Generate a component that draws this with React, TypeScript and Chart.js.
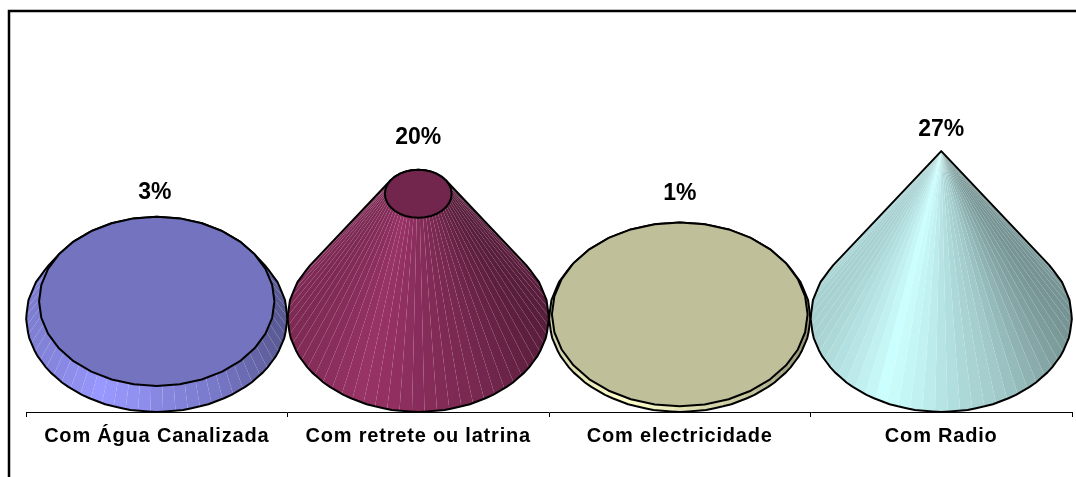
import React, { useEffect, useRef } from "react";
import { Chart, registerables } from "chart.js";

Chart.register(...registerables);

const categories = ["Com Água Canalizada", "Com retrete ou latrina", "Com electricidade", "Com Radio"];
const seriesValues = [2.7, 20.1, 0.6, 27];
const sideColors = [[153, 153, 255], [153, 51, 102], [255, 255, 204], [204, 255, 255]];
const labelGaps = [24, 32, 29, 21];
const labelShift = [-2, 0, 0, 0];

const SEGMENTS = 32;
const SUB = 2;
const FONT = '"Liberation Sans", Arial, sans-serif';

const shadeStops = [[-1, 0.82], [-0.45, 1], [-0.12, 0.93], [0, 0.89], [0.5, 0.78], [1, 0.58]];
function shade(x: number) {
  for (let i = 1; i < shadeStops.length; i++) {
    const [x0, s0] = shadeStops[i - 1];
    const [x1, s1] = shadeStops[i];
    if (x <= x1) return s0 + ((s1 - s0) * (x - x0)) / (x1 - x0);
  }
  return 0.58;
}
const rgb = (c: number[], k: number) => `rgb(${c.map((v) => Math.round(v * k)).join(",")})`;

const conePlugin = {
  id: "cones",
  beforeDraw(chart: any) {
    chart.ctx.letterSpacing = "0.8px";
  },
  afterDatasetsDraw(chart: any) {
    const { ctx, chartArea, scales } = chart;
    ctx.letterSpacing = "0px";
    const meta = chart.getDatasetMeta(0);
    const y0 = scales.y.getPixelForValue(0);
    const b0 = chartArea.bottom - y0;
    const maxV = Math.max(...seriesValues);
    const apexH = y0 - scales.y.getPixelForValue(maxV);
    const tangent = Math.asin(Math.min(1, b0 / apexH));

    // outer frame
    ctx.save();
    ctx.strokeStyle = "#000";
    ctx.lineWidth = 2.5;
    ctx.beginPath();
    ctx.moveTo(9, chart.height);
    ctx.lineTo(9, 11);
    ctx.lineTo(chart.width, 11);
    ctx.stroke();
    ctx.restore();

    meta.data.forEach((bar: any, i: number) => {
      const cx = bar.x;
      const R = bar.width / 2;
      const yTop = bar.y;
      const f = 1 - seriesValues[i] / maxV;
      const step = (Math.PI * 2) / SEGMENTS;
      const base = (t: number) => [cx + R * Math.cos(t), y0 + b0 * Math.sin(t)];
      const top = (t: number) => [cx + R * f * Math.cos(t), yTop + b0 * f * Math.sin(t)];
      const snap = (t: number, fn: (t: number) => number[]) => {
        const j = Math.floor(t / step);
        const a = fn(j * step);
        const c = fn((j + 1) * step);
        const u = t / step - j;
        return [a[0] + (c[0] - a[0]) * u, a[1] + (c[1] - a[1]) * u];
      };

      const start = -tangent;
      const end = Math.PI + tangent;
      const facets = Math.ceil(((end - start) / step) * SUB);
      const norm = (t: number) => (t < 0 ? t + Math.PI * 2 : t);
      ctx.save();
      for (let n = 0; n < facets; n++) {
        const t0 = start + ((end - start) * n) / facets;
        const t1 = start + ((end - start) * (n + 1)) / facets;
        const tm = (t0 + t1) / 2;
        const a = snap(norm(t0), base);
        const c = snap(norm(t1), base);
        const d = snap(norm(t1), top);
        const e = snap(norm(t0), top);
        ctx.beginPath();
        ctx.moveTo(a[0], a[1]);
        ctx.lineTo(c[0], c[1]);
        ctx.lineTo(d[0], d[1]);
        ctx.lineTo(e[0], e[1]);
        ctx.closePath();
        ctx.fillStyle = rgb(sideColors[i], shade(Math.cos(tm)));
        ctx.fill();
      }

      // silhouette
      ctx.strokeStyle = "#000";
      ctx.lineWidth = 2;
      ctx.lineJoin = "round";
      ctx.beginPath();
      const arcPts = 64;
      for (let n = 0; n <= arcPts; n++) {
        const t = start + ((end - start) * n) / arcPts;
        const p = snap(norm(t), base);
        n === 0 ? ctx.moveTo(p[0], p[1]) : ctx.lineTo(p[0], p[1]);
      }
      if (f > 0) {
        for (let n = 0; n <= arcPts; n++) {
          const t = end + ((start + Math.PI * 2 - end) * n) / arcPts;
          const p = snap(t, top);
          ctx.lineTo(p[0], p[1]);
        }
      } else {
        ctx.lineTo(cx, yTop);
      }
      ctx.closePath();
      ctx.stroke();

      // top face
      if (f > 0) {
        ctx.beginPath();
        for (let n = 0; n < SEGMENTS; n++) {
          const p = top(n * step);
          n === 0 ? ctx.moveTo(p[0], p[1]) : ctx.lineTo(p[0], p[1]);
        }
        ctx.closePath();
        ctx.fillStyle = rgb(sideColors[i], 0.75);
        ctx.fill();
        ctx.stroke();
      }

      // value label
      ctx.fillStyle = "#000";
      ctx.font = `bold 23px ${FONT}`;
      ctx.textAlign = "center";
      ctx.textBaseline = "middle";
      const labelY = yTop - b0 * f - labelGaps[i];
      ctx.fillText(`${seriesValues[i].toFixed(0)}%`, cx + labelShift[i], labelY);
      ctx.restore();
    });
  },
};

export default function App() {
  const ref = useRef<HTMLCanvasElement>(null);
  useEffect(() => {
    const chart = new Chart(ref.current!, {
      type: "bar",
      data: {
        labels: categories,
        datasets: [
          {
            data: seriesValues,
            backgroundColor: "rgba(0,0,0,0)",
            borderWidth: 0,
            barPercentage: 1,
            categoryPercentage: 1,
          },
        ],
      },
      plugins: [conePlugin],
      options: {
        responsive: false,
        animation: false,
        devicePixelRatio: 1,
        layout: { padding: { left: 26, right: 4, top: 12, bottom: 0 } },
        plugins: { legend: { display: false }, title: { display: false }, tooltip: { enabled: false } },
        scales: {
          x: {
            offset: true,
            afterFit: (s: any) => {
              s.height = 65;
            },
            grid: { drawOnChartArea: false, color: "#000", tickLength: 5, offset: true, lineWidth: 1 },
            border: { color: "#000", width: 1 },
            ticks: {
              autoSkip: false,
              maxRotation: 0,
              padding: 7,
              color: "#000",
              font: { family: FONT, weight: "bold", size: 20 },
            },
          },
          y: { display: false, min: -15.2, max: 49.5 },
        },
      },
    } as any);
    return () => chart.destroy();
  }, []);
  return (
    <canvas
      ref={ref}
      width={1076}
      height={477}
      style={{ position: "fixed", left: 0, top: 0, width: 1076, height: 477, background: "#fff" }}
    />
  );
}
